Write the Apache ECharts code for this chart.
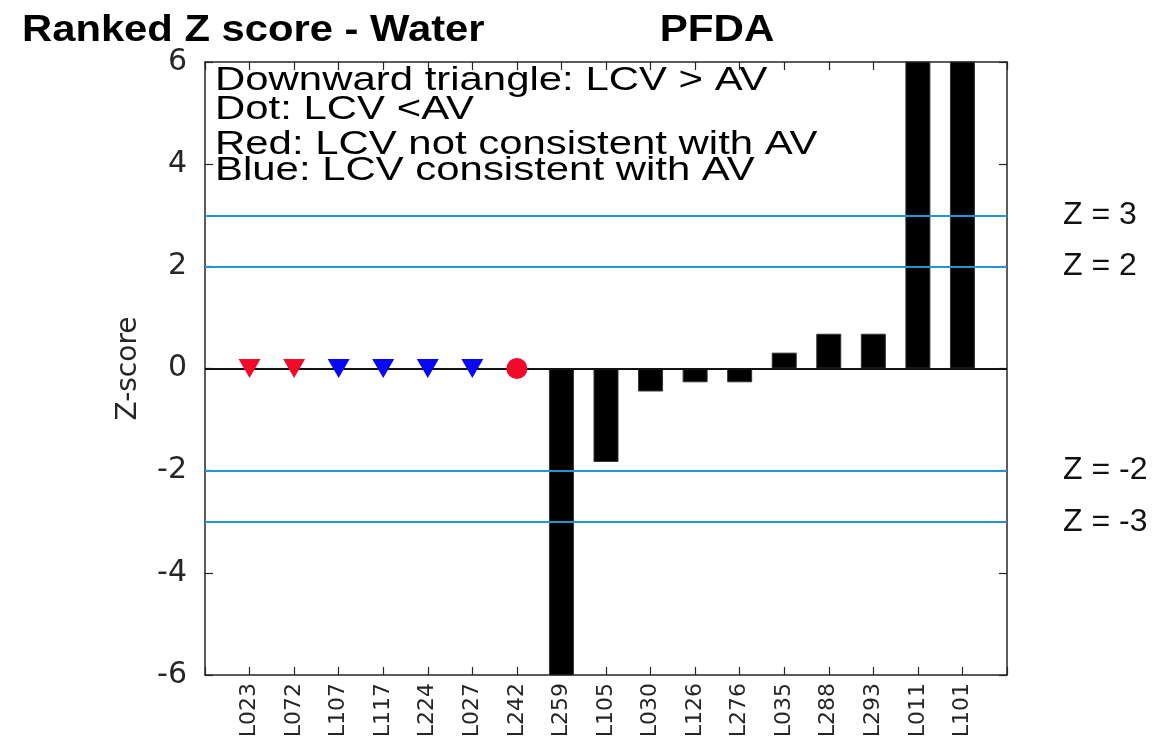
<!DOCTYPE html>
<html>
<head>
<meta charset="utf-8">
<script src="https://cdn.jsdelivr.net/npm/echarts@6/dist/echarts.min.js"></script>
<style>
html,body{margin:0;padding:0;background:#fff;}
#chart{width:1158px;height:742px;}
</style>
</head>
<body>
<div id="chart"></div>
<script>
// ---- data ----
const categories = ['L023','L072','L107','L117','L224','L027','L242','L259','L105','L030','L126','L276','L035','L288','L293','L011','L101'];
const markerLabs = ['L023','L072','L107','L117','L224','L027','L242'];
const markerValues = [0, 0, 0, 0, 0, 0, 0];
const markerShapes = ['triangle','triangle','triangle','triangle','triangle','triangle','dot'];
const markerColors = ['red','red','blue','blue','blue','blue','red'];
const barLabs = ['L259','L105','L030','L126','L276','L035','L288','L293','L011','L101'];
const barValues = [-7.2, -1.83, -0.45, -0.27, -0.27, 0.31, 0.68, 0.68, 7.9, 8.1];
const zLimits = [3, 2, -2, -3];
const titleText = 'Ranked Z score - Water';
const compoundText = 'PFDA';
const noteLines = ['Downward triangle: LCV > AV', 'Dot: LCV <AV', 'Red: LCV not consistent with AV', 'Blue: LCV consistent with AV'];

// ---- build ----
const colorMap = {red: '#f20a2a', blue: '#0808f2'};
const pos = name => categories.indexOf(name) + 1;
const scatterData = markerLabs.map((n, i) => ({
  value: [pos(n), markerValues[i]],
  symbol: markerShapes[i] === 'dot' ? 'circle' : 'triangle',
  symbolRotate: markerShapes[i] === 'dot' ? 0 : 180,
  symbolSize: markerShapes[i] === 'dot' ? [21, 21] : [22, 19],
  itemStyle: {color: colorMap[markerColors[i]], opacity: 1}
}));
const barData = barLabs.map((n, i) => [pos(n), barValues[i]]);

const FONT = 'DejaVu Sans';
const axisCommon = {
  axisLine: {show: true, onZero: false, lineStyle: {color: '#262626', width: 1.5}},
  axisTick: {show: true, inside: true, length: 8, lineStyle: {color: '#262626', width: 1.2}},
  splitLine: {show: false}
};

const noteY = [81, 110, 145, 171];
const graphics = [
  {type: 'text', x: 22, y: 31, scaleX: 1.16, style: {text: titleText, font: 'bold 36px "Liberation Sans"', fill: '#000', textAlign: 'left', textVerticalAlign: 'middle'}},
  {type: 'text', x: 717, y: 31, scaleX: 1.17, style: {text: compoundText, font: 'bold 36px "Liberation Sans"', fill: '#000', textAlign: 'center', textVerticalAlign: 'middle'}}
].concat(noteLines.map((t, i) => ({
  type: 'text', x: 215, y: noteY[i], scaleX: 1.27, z: 100,
  style: {text: t, font: '33px "Liberation Sans"', fill: '#000', textAlign: 'left', textVerticalAlign: 'middle'}
})));

const option = {
  backgroundColor: '#fff',
  animation: false,
  grid: {left: 205, right: 151, top: 62, bottom: 67, containLabel: false},
  xAxis: [
    Object.assign({}, axisCommon, {
      type: 'value', position: 'bottom', min: 0, max: categories.length + 1, interval: 1,
      axisLabel: {rotate: 90, fontFamily: FONT, fontSize: 22, color: '#262626', margin: 8,
        formatter: v => categories[v - 1] || ''}
    }),
    Object.assign({}, axisCommon, {
      type: 'value', position: 'top', min: 0, max: categories.length + 1, interval: 1,
      axisLabel: {show: false}
    })
  ],
  yAxis: [
    Object.assign({}, axisCommon, {
      type: 'value', position: 'left', min: -6, max: 6, interval: 2,
      name: 'Z-score', nameLocation: 'middle', nameGap: 62, nameRotate: 90,
      nameTextStyle: {fontFamily: FONT, fontSize: 28, color: '#262626'},
      axisLabel: {fontFamily: FONT, fontSize: 30, color: '#262626', margin: 18}
    }),
    Object.assign({}, axisCommon, {
      type: 'value', position: 'right', min: -6, max: 6, interval: 2,
      axisLabel: {show: false}
    })
  ],
  graphic: graphics,
  series: [
    {
      type: 'bar', xAxisIndex: 0, yAxisIndex: 0, data: barData, barWidth: 25, clip: true,
      itemStyle: {color: '#000', borderColor: '#333', borderWidth: 1},
      markLine: {
        silent: true, symbol: 'none', animation: false,
        data: zLimits.map(z => ({yAxis: z, lineStyle: {color: '#2196d3', width: 1.8, type: 'solid'},
          label: {show: true, position: 'end', distance: 56, formatter: 'Z = ' + z,
            fontFamily: 'Liberation Sans', fontSize: 32, color: '#111', padding: [6, 0, 0, 0]}}))
          .concat([{yAxis: 0, lineStyle: {color: '#111', width: 2, type: 'solid'}, label: {show: false}}])
      }
    },
    {
      type: 'scatter', xAxisIndex: 0, yAxisIndex: 0, data: scatterData, z: 5
    }
  ]
};

const chart = echarts.init(document.getElementById('chart'), null, {renderer: 'canvas'});
chart.setOption(option);
</script>
</body>
</html>
